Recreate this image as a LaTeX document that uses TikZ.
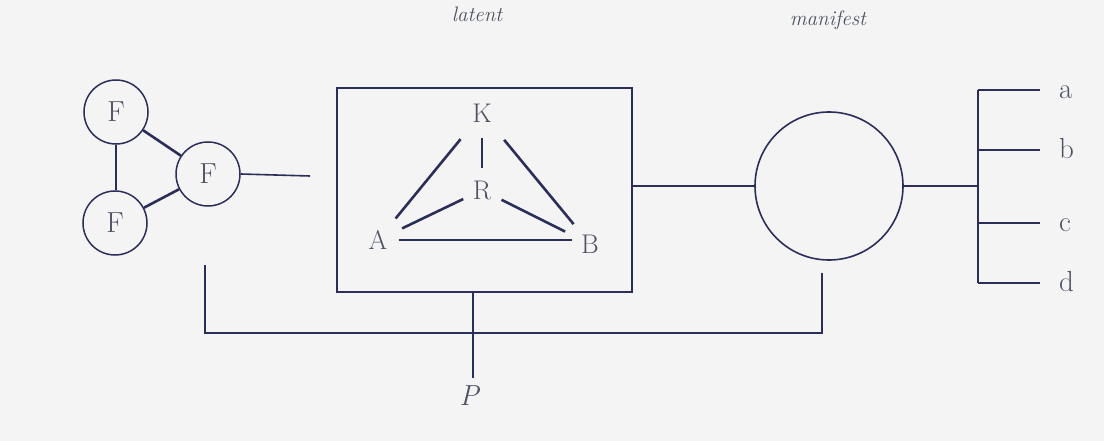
\documentclass[tikz,border=0pt]{standalone}
\usepackage{fontspec}
\usepackage{tikz}
\usetikzlibrary{positioning}
\definecolor{ink}{RGB}{42,46,88}
\definecolor{lbl}{RGB}{78,82,98}
\definecolor{paper}{RGB}{244,244,245}

\begin{document}
\begin{tikzpicture}[x=1pt,y=-1pt,color=ink,line width=1.6pt,
    fnode/.style={circle,draw,line width=1.5pt,minimum size=64pt,inner sep=0pt,
      text=lbl,font=\fontsize{29}{33}\selectfont},
    lettr/.style={circle,inner sep=0pt,minimum size=40pt,
      text=lbl,font=\fontsize{27}{31}\selectfont},
    tag/.style={text=lbl,font=\fontsize{21}{25}\selectfont\itshape},
    heavy/.style={line width=2.6pt}]
  \fill[paper] (0,0) rectangle (1104,441);
  \useasboundingbox (0,0) rectangle (1104,441);
  % F の三角
  \node[fnode] (F1) at (116,112) {F};
  \node[fnode] (F2) at (208,174) {F};
  \node[fnode] (F3) at (115,223) {F};
  \draw (F1) -- (F1 |- F3.north);
  \draw[heavy] (F1) -- (F2);
  \draw[heavy] (F3) -- (F2);
  \coordinate (fin) at (310,176);
  \draw (F2.east) -- (fin);
  % latent の箱
  \node[draw,line width=1.9pt,minimum width=295pt,minimum height=204pt,inner sep=0pt]
    (box) at (484.5,190) {};
  \node[tag] (lat) at (477,14) {latent};
  \node[lettr] (K) at (482,113) {K};
  \node[lettr] (R) at (482,190) {R};
  \node[lettr] (A) at (378,240) {A};
  \node[lettr] (B) at (590,244) {B};
  \draw[heavy,shorten <=13pt,shorten >=7pt] (K) -- (A);
  \draw[heavy,shorten <=14pt,shorten >=5pt] (K) -- (B);
  \draw[shorten <=4pt,shorten >=1pt] (K) -- (R);
  \draw[heavy,shorten <=0pt,shorten >=6pt] (R) -- (A);
  \draw[heavy,shorten <=1pt,shorten >=7pt] (R) -- (B);
  \draw[line width=2.2pt,shorten >=18pt] (A.east) -- (A.east -| B);
  % manifest の円
  \node[circle,draw,line width=1.6pt,minimum size=148pt,inner sep=0pt] (man) at (829,186) {};
  \node[tag] (mfs) at (828,20) {manifest};
  \draw (man.west -| box.east) -- (man.west);
  % 指標 a--d
  \coordinate (brTop) at (978,90);
  \coordinate (brBot) at (978,283);
  \draw (man.east) -- (man.east -| brTop);
  \draw (brTop) -- (brBot);
  \foreach \n/\y in {a/90,b/150,c/223,d/283} {
    \draw (978,\y) -- (1040,\y);
    \node[anchor=mid west,text=lbl,font=\fontsize{29}{33}\selectfont] (\n) at (1055,\y+6) {\n};
  }
  % 下の枠線
  \coordinate (lBot) at (205,265);
  \coordinate (rBot) at (822,273);
  \coordinate (rail) at (473,333);
  \draw (lBot) -- (lBot |- rail) -- (rBot |- rail) -- (rBot);
  \coordinate (tap) at (473,378);
  \draw (tap |- box.south) -- (tap);
  \node[below=4pt of tap,xshift=-4pt,text=lbl,font=\fontsize{29}{33}\selectfont\itshape] (P) {P};
\end{tikzpicture}
\end{document}
